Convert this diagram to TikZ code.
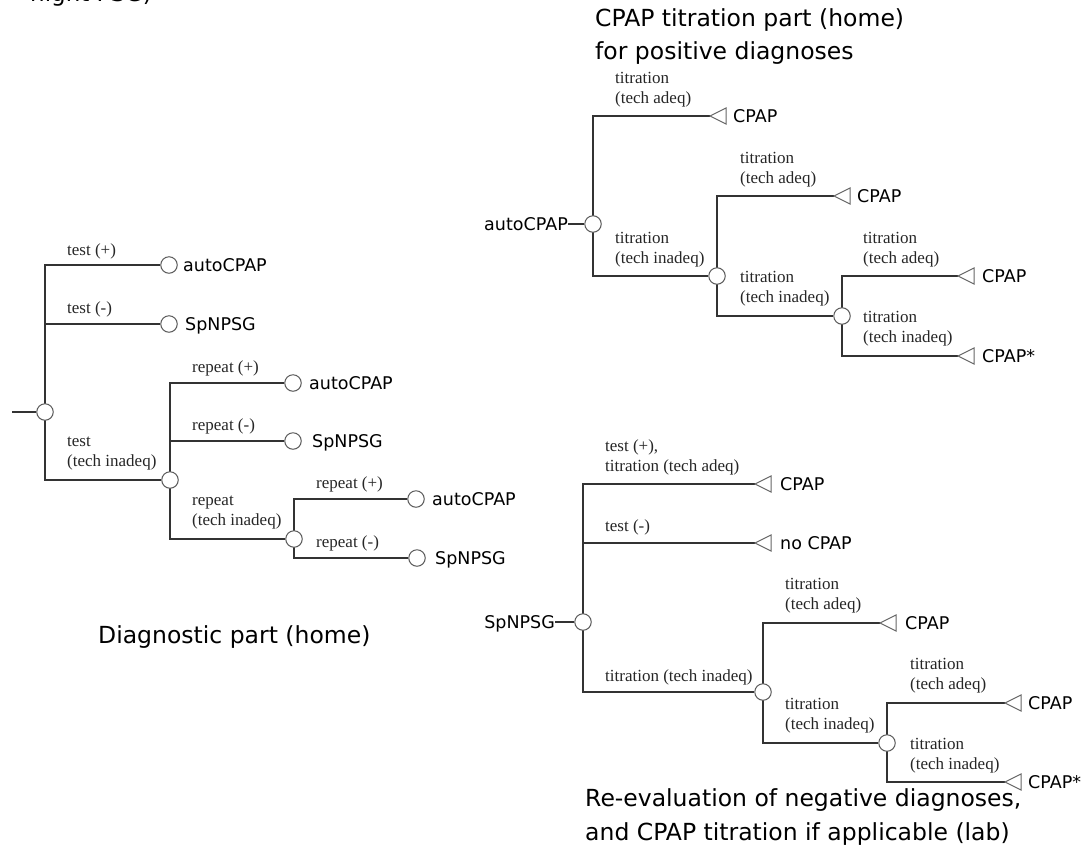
\documentclass[tikz,border=0pt]{standalone}
\usepackage{fontspec}
\setmainfont{Liberation Serif}
\newfontfamily\dvs{DejaVu Sans}
\usetikzlibrary{backgrounds}
\newcommand\trimark[1]{\draw[tri] (#1) -- ++(16,-8) -- ++(0,16) -- cycle;}
\begin{document}
\begin{tikzpicture}[x=1pt,y=-1pt,
  ln/.style={draw=black!80, line width=1.2pt},
  dec/.style={circle, draw=black!65, fill=white, line width=1pt, minimum size=16.5pt, inner sep=0pt},
  lab/.style={anchor=west, align=left, inner sep=0pt, font=\fontsize{17}{20}\selectfont, text=black!85},
  endtxt/.style={anchor=west, inner sep=0pt, text height=12.6pt, text depth=0pt, font=\dvs\fontsize{17.5}{20}\selectfont},
  ttl/.style={anchor=west, align=left, inner sep=0pt, font=\dvs\fontsize{23.5}{33}\selectfont},
  tri/.style={draw=black!60, fill=white, line width=1pt}]
\useasboundingbox (0,0) rectangle (1083,844);
\clip (0,0) rectangle (1083,844);

% cut-off heading at the top
\node[anchor=base west, inner sep=0pt, font=\dvs\fontsize{23}{33}\selectfont] (cut) at (30,1) {night PSG)};

% ---------- Diagnostic part ----------
\coordinate (s0) at (12,412);
\node[dec] (A0) at (45,412) {};
\node[dec] (A1) at (169,265) {};  \node[endtxt] (a1) at (183,265) {autoCPAP};
\node[dec] (A2) at (169,324) {};  \node[endtxt] (a2) at (185,324) {SpNPSG};
\node[dec] (B0) at (170,480) {};
\node[dec] (B1) at (293,383) {};  \node[endtxt] (b1) at (309,383) {autoCPAP};
\node[dec] (B2) at (293,441) {};  \node[endtxt] (b2) at (312,441) {SpNPSG};
\node[dec] (C0) at (294,539) {};
\node[dec] (C1) at (416,499) {};  \node[endtxt] (c1) at (432,499) {autoCPAP};
\node[dec] (C2) at (417,558) {};  \node[endtxt] (c2) at (435,558) {SpNPSG};

\node[lab] (la1) at (67,251) {test (+)};
\node[lab] (la2) at (67,309) {test (-)};
\node[lab] (la3) at (67,453.5) {test\\(tech inadeq)};
\node[lab] (lb1) at (192,368) {repeat (+)};
\node[lab] (lb2) at (192,426) {repeat (-)};
\node[lab] (lb3) at (192,513) {repeat\\(tech inadeq)};
\node[lab] (lc1) at (316,484) {repeat (+)};
\node[lab] (lc2) at (316,543) {repeat (-)};

\node[ttl] (t1) at (98,637) {Diagnostic part (home)};

% ---------- CPAP titration part ----------
\node[endtxt, anchor=east] (r1) at (568,224) {autoCPAP};
\node[dec] (D0) at (593,224) {};
\coordinate (d1) at (710,116);  \node[endtxt] (dd1) at (733,116) {CPAP};
\node[dec] (E0) at (717,276) {};
\coordinate (e1) at (834,196);  \node[endtxt] (ee1) at (857,196) {CPAP};
\node[dec] (F0) at (842,316) {};
\coordinate (f1) at (958,276);  \node[endtxt] (ff1) at (982,276) {CPAP};
\coordinate (f2) at (958,356);  \node[endtxt] (ff2) at (982,356) {CPAP*};

\node[lab] (ld1) at (615,89.5) {titration\\(tech adeq)};
\node[lab] (ld2) at (615,249.5) {titration\\(tech inadeq)};
\node[lab] (le1) at (740,169.5) {titration\\(tech adeq)};
\node[lab] (le2) at (740,288.5) {titration\\(tech inadeq)};
\node[lab] (lf1) at (863,249.5) {titration\\(tech adeq)};
\node[lab] (lf2) at (863,328.5) {titration\\(tech inadeq)};

\node[ttl] (t2) at (595,37) {CPAP titration part (home)\\for positive diagnoses};

% ---------- Re-evaluation part ----------
\node[endtxt, anchor=east] (r2) at (555,622) {SpNPSG};
\node[dec] (G0) at (583,622) {};
\coordinate (g1) at (755,484);  \node[endtxt] (gg1) at (780,484) {CPAP};
\coordinate (g2) at (755,543);  \node[endtxt] (gg2) at (780,543) {no CPAP};
\node[dec] (H0) at (763,692) {};
\coordinate (h1) at (880,623);  \node[endtxt] (hh1) at (905,623) {CPAP};
\node[dec] (I0) at (887,743) {};
\coordinate (i1) at (1005,703); \node[endtxt] (ii1) at (1028,703) {CPAP};
\coordinate (i2) at (1005,782); \node[endtxt] (ii2) at (1028,782) {CPAP*};

\node[lab] (lg1) at (605,457.5) {test (+),\\titration (tech adeq)};
\node[lab] (lg2) at (605,527) {test (-)};
\node[lab] (lg3) at (605,677) {titration (tech inadeq)};
\node[lab] (lh1) at (785,595.5) {titration\\(tech adeq)};
\node[lab] (lh2) at (785,715.5) {titration\\(tech inadeq)};
\node[lab] (li1) at (910,676) {titration\\(tech adeq)};
\node[lab] (li2) at (910,755.5) {titration\\(tech inadeq)};

\node[ttl] (t3) at (585,817) {Re-evaluation of negative diagnoses,\\and CPAP titration if applicable (lab)};

% ---------- connectors ----------
\begin{pgfonlayer}{background}
\draw[ln] (s0) -- (A0);
\draw[ln] (A0.center) |- (A1);
\draw[ln] (A0.center) |- (A2);
\draw[ln] (A0.center) |- (B0);
\draw[ln] (B0.center) |- (B1);
\draw[ln] (B0.center) |- (B2);
\draw[ln] (B0.center) |- (C0);
\draw[ln] (C0.center) |- (C1);
\draw[ln] (C0.center) |- (C2);

\draw[ln] (r1.east) -- (D0);
\draw[ln] (D0.center) |- (d1);
\draw[ln] (D0.center) |- (E0);
\draw[ln] (E0.center) |- (e1);
\draw[ln] (E0.center) |- (F0);
\draw[ln] (F0.center) |- (f1);
\draw[ln] (F0.center) |- (f2);

\draw[ln] (r2.east) -- (G0);
\draw[ln] (G0.center) |- (g1);
\draw[ln] (G0.center) |- (g2);
\draw[ln] (G0.center) |- (H0);
\draw[ln] (H0.center) |- (h1);
\draw[ln] (H0.center) |- (I0);
\draw[ln] (I0.center) |- (i1);
\draw[ln] (I0.center) |- (i2);
\end{pgfonlayer}

\trimark{d1} \trimark{e1} \trimark{f1} \trimark{f2}
\trimark{g1} \trimark{g2} \trimark{h1} \trimark{i1} \trimark{i2}
\end{tikzpicture}
\end{document}
